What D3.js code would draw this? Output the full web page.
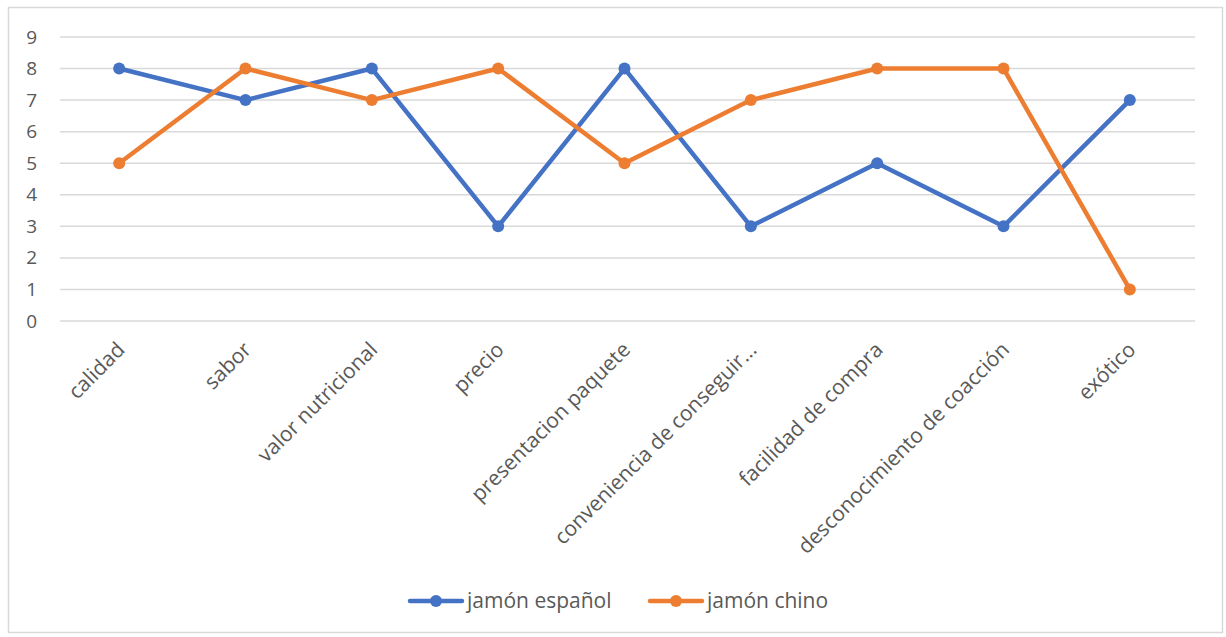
<!DOCTYPE html>
<html>
<head>
<meta charset="utf-8">
<script src="https://cdn.jsdelivr.net/npm/d3@7"></script>
<style>
  html, body { margin: 0; padding: 0; background: #fff; }
  svg { display: block; }
  text { font-family: "Open Sans", "Noto Sans", sans-serif; fill: #595959; }
</style>
</head>
<body>
<svg id="chart" width="1226" height="637"></svg>
<script>
const categories = [
  "calidad", "sabor", "valor nutricional", "precio", "presentacion paquete",
  "conveniencia de conseguir...", "facilidad de compra",
  "desconocimiento de coacción", "exótico"
];
const espanol = [8, 7, 8, 3, 8, 3, 5, 3, 7];
const chino   = [5, 8, 7, 8, 5, 7, 8, 8, 1];
const yTicks  = [0, 1, 2, 3, 4, 5, 6, 7, 8, 9];

const series = [
  { name: "jamón español", values: espanol, color: "#4472C4" },
  { name: "jamón chino",   values: chino,   color: "#ED7D31" }
];

const svg = d3.select("#chart");

// chart frame
svg.append("rect")
  .attr("x", 8.5).attr("y", 7.5)
  .attr("width", 1214).attr("height", 625)
  .attr("fill", "#fff").attr("stroke", "#d9d9d9").attr("stroke-width", 1.5);

const plot = { left: 56, right: 1193, top: 37, bottom: 321 };

const x = d3.scaleBand().domain(categories).range([plot.left, plot.right]);
const y = d3.scaleLinear().domain([0, 9]).range([plot.bottom, plot.top]);

// horizontal gridlines
svg.append("g")
  .selectAll("line")
  .data(yTicks)
  .join("line")
  .attr("x1", 60).attr("x2", 1195)
  .attr("y1", d => y(d)).attr("y2", d => y(d))
  .attr("stroke", "#d9d9d9").attr("stroke-width", 1.5);

// y axis labels
const yAxis = d3.axisLeft(y).tickValues(yTicks).tickSize(0).tickPadding(0);
const gy = svg.append("g").attr("transform", "translate(37,0)").call(yAxis);
gy.select(".domain").remove();
gy.selectAll("text")
  .style("font-size", "19px")
  .style("fill", "#595959")
  .style("font-family", "'Open Sans', sans-serif");

// x axis labels, rotated
const xAxis = d3.axisBottom(x).tickSize(0).tickPadding(0);
const gx = svg.append("g").attr("transform", `translate(0,${plot.bottom})`).call(xAxis);
gx.select(".domain").remove();
gx.selectAll("text")
  .style("font-size", "21px")
  .style("fill", "#595959")
  .style("font-family", "'Open Sans', sans-serif")
  .attr("text-anchor", "end")
  .attr("dy", null)
  .attr("y", 0)
  .attr("transform", "translate(7,30) rotate(-45)");

// lines and markers
const line = d3.line()
  .x((d, i) => x(categories[i]) + x.bandwidth() / 2)
  .y(d => y(d));

series.forEach(s => {
  const g = svg.append("g");
  g.append("path")
    .datum(s.values)
    .attr("d", line)
    .attr("fill", "none")
    .attr("stroke", s.color)
    .attr("stroke-width", 4.5)
    .attr("stroke-linejoin", "round")
    .attr("stroke-linecap", "round");
  g.selectAll("circle")
    .data(s.values)
    .join("circle")
    .attr("cx", (d, i) => x(categories[i]) + x.bandwidth() / 2)
    .attr("cy", d => y(d))
    .attr("r", 6)
    .attr("fill", s.color);
});

// legend
const legendItems = [
  { s: series[0], x0: 410 },
  { s: series[1], x0: 650 }
];
const ly = 601;
legendItems.forEach(({ s, x0 }) => {
  const g = svg.append("g").attr("transform", `translate(${x0},${ly})`);
  g.append("line").attr("x1", 0).attr("x2", 52).attr("y1", 0).attr("y2", 0)
    .attr("stroke", s.color).attr("stroke-width", 4.5).attr("stroke-linecap", "round");
  g.append("circle").attr("cx", 26).attr("cy", 0).attr("r", 6).attr("fill", s.color);
  g.append("text").attr("x", 57).attr("y", 0).attr("dy", "0.35em")
    .style("font-size", "21px").text(s.name);
});
</script>
</body>
</html>
